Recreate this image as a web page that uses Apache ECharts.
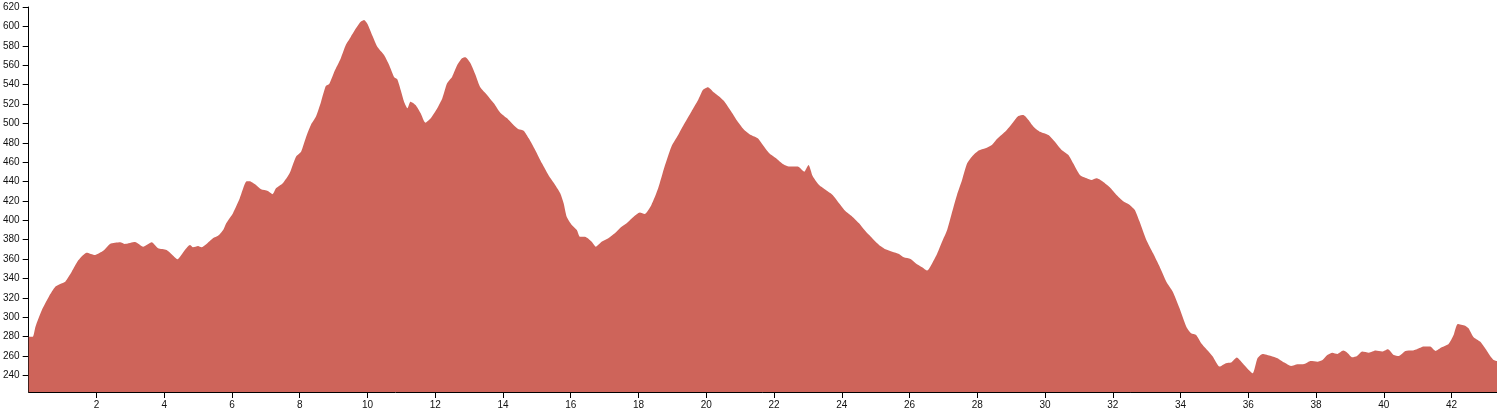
<!DOCTYPE html>
<html>
<head>
<meta charset="utf-8">
<script src="https://cdn.jsdelivr.net/npm/echarts@6/dist/echarts.min.js"></script>
<style>
html,body{margin:0;padding:0;background:#fff;}
#chart{width:1497px;height:412px;}
</style>
</head>
<body>
<div id="chart"></div>
<script>
const distanceKm = [
0,0.12,0.2,0.39,0.59,0.79,0.93,1.08,1.27,1.47,1.71,1.96,2.21,2.40,2.70,2.84,3.14,3.38,3.63,3.82,
4.07,4.21,4.39,4.61,4.76,4.85,5.0,5.1,5.24,5.44,5.59,5.74,5.83,6.03,6.23,6.42,6.52,6.71,6.86,7.06,
7.2,7.30,7.5,7.70,7.89,8.04,8.19,8.33,8.48,8.63,8.77,8.87,9.02,9.21,9.36,9.51,9.66,9.80,9.90,10.0,
10.15,10.29,10.49,10.64,10.79,10.88,10.98,11.08,11.18,11.27,11.42,11.57,11.71,11.86,12.06,12.21,12.35,12.5,12.65,12.79,
12.89,13.04,13.19,13.33,13.53,13.73,13.92,14.12,14.31,14.46,14.61,14.76,14.95,15.15,15.34,15.54,15.69,15.79,15.88,16.03,
16.18,16.27,16.42,16.62,16.74,16.91,17.11,17.30,17.5,17.65,17.84,18.04,18.18,18.38,18.58,18.77,18.97,19.17,19.36,19.56,
19.76,19.90,20.05,20.20,20.39,20.54,20.74,20.93,21.13,21.32,21.52,21.67,21.86,22.06,22.26,22.45,22.70,22.89,23.02,23.14,
23.33,23.53,23.73,23.92,24.12,24.31,24.51,24.71,24.90,25.10,25.29,25.49,25.69,25.83,26.03,26.18,26.37,26.52,26.67,26.82,
26.96,27.11,27.26,27.40,27.55,27.70,27.84,28.04,28.24,28.43,28.58,28.77,28.87,29.07,29.21,29.36,29.51,29.66,29.85,30.1,
30.29,30.49,30.69,30.83,31.03,31.23,31.37,31.52,31.71,31.91,32.11,32.30,32.5,32.65,32.79,32.99,33.19,33.38,33.58,33.77,
33.97,34.17,34.31,34.46,34.61,34.80,34.95,35.15,35.34,35.49,35.66,35.83,36.01,36.13,36.27,36.42,36.67,36.86,37.06,37.26,
37.45,37.65,37.84,38.04,38.19,38.33,38.48,38.63,38.8,38.92,39.07,39.21,39.36,39.56,39.76,39.95,40.12,40.29,40.44,40.64,
40.83,40.98,41.18,41.37,41.52,41.71,41.91,42.06,42.18,42.4,42.5,42.65,42.84,42.99,43.14,43.24,43.34
];
const elevationM = [
280,280,290.4,307.6,321,331.7,334.4,336.8,347,359,366.7,364.3,368.8,375.7,377.4,375.7,377.7,372.9,377.4,371.2,
369.5,365.4,360,369.5,374.6,372.3,373.6,372.3,375.4,381.5,384,390,397,407.4,422.8,440,440.3,436.5,432,430.3,
427,433,438.2,448.5,465.7,470.8,486.3,498.4,507,522.4,538.6,540.6,553.3,567,580.8,589.4,598,604.9,606.6,602.5,
590,579,570.5,560.2,547.5,545.4,534.4,522.4,515.6,522.4,519,510.4,500.7,505,515.6,526,541.4,548.2,560.2,567.1,
568.1,562,550,537.2,529.3,520.7,511,505.2,498.4,493.9,492.5,484.6,472.6,458.8,446.8,436.5,427.9,417.6,403.8,395.3,
390.1,383.2,383.2,378,372.9,378,381.5,386.7,393.5,397,403.2,408,406.6,415.9,433,455.4,476,488,500.1,512.1,
524.1,534.4,537.2,532.7,527.5,522.4,512.1,501.8,493,488,484.6,477.7,469.2,464,458.1,455.4,455.4,450.2,457.1,445.8,
436.5,431.3,426.2,417.6,409,403.8,397,388.4,381.5,374.6,370.2,367.7,365.4,361.9,360.2,355.8,351.6,348.2,355.8,366,
378,390.1,409,426.2,441.6,458.8,465.7,471.9,474.3,477.7,483.9,489.8,493.2,501.8,507.6,508.7,503.5,496.6,491.4,488,
481.1,472.6,467.4,458.8,446.8,443.3,441.6,443.3,439.9,434.1,426.2,420,415.9,410.7,398.7,379.8,366,352.3,336.8,326.5,
309.4,290.4,283.6,281.9,273.3,265.7,259.5,249.2,252.7,253.3,258.5,252.7,245.8,242.4,257.8,262.3,260.2,257.8,253.3,249.9,
251.6,251.9,255,254.3,256.1,261.2,263.6,262.3,265.7,263.6,258.8,260.2,264.7,263.6,265.7,264.7,267.1,261.2,260.2,265.4,
265.7,267.1,269.8,269.8,265.4,269.2,272.6,281.9,293.2,291.4,288.8,279.5,275,268.1,260.2,256.1,255
];
const xTickValues = [2,4,6,8,10,12,14,16,18,20,22,24,26,28,30,32,34,36,38,40,42];
const yTickValues = [240,260,280,300,320,340,360,380,400,420,440,460,480,500,520,540,560,580,600,620];

const points = distanceKm.map((d, i) => [d, elevationM[i]]);
const chart = echarts.init(document.getElementById('chart'), null, {renderer: 'canvas'});
const labelStyle = {fontFamily: 'Liberation Sans, Arial, sans-serif', fontSize: 10, color: '#111'};
chart.setOption({
  animation: false,
  grid: {left: 26, right: 0, top: 7, bottom: 20, containLabel: false},
  xAxis: {
    type: 'value', min: 0, max: distanceKm[distanceKm.length - 1],
    axisLine: {show: true, lineStyle: {color: '#000', width: 1}},
    axisTick: {show: true, length: 6, lineStyle: {color: '#000'}, customValues: xTickValues},
    axisLabel: Object.assign({margin: 8, customValues: xTickValues}, labelStyle),
    splitLine: {show: false}
  },
  yAxis: {
    type: 'value', min: 223, max: 620,
    axisLine: {show: true, lineStyle: {color: '#000', width: 1}},
    axisTick: {show: true, length: 6, lineStyle: {color: '#000'}, customValues: yTickValues},
    axisLabel: Object.assign({margin: 9, customValues: yTickValues}, labelStyle),
    splitLine: {show: false}
  },
  series: [{
    type: 'line',
    data: points,
    showSymbol: false,
    smooth: 0.2,
    lineStyle: {width: 0},
    areaStyle: {color: '#ce645a', opacity: 1, origin: 'start'},
    z: 1
  }]
});
</script>
</body>
</html>
